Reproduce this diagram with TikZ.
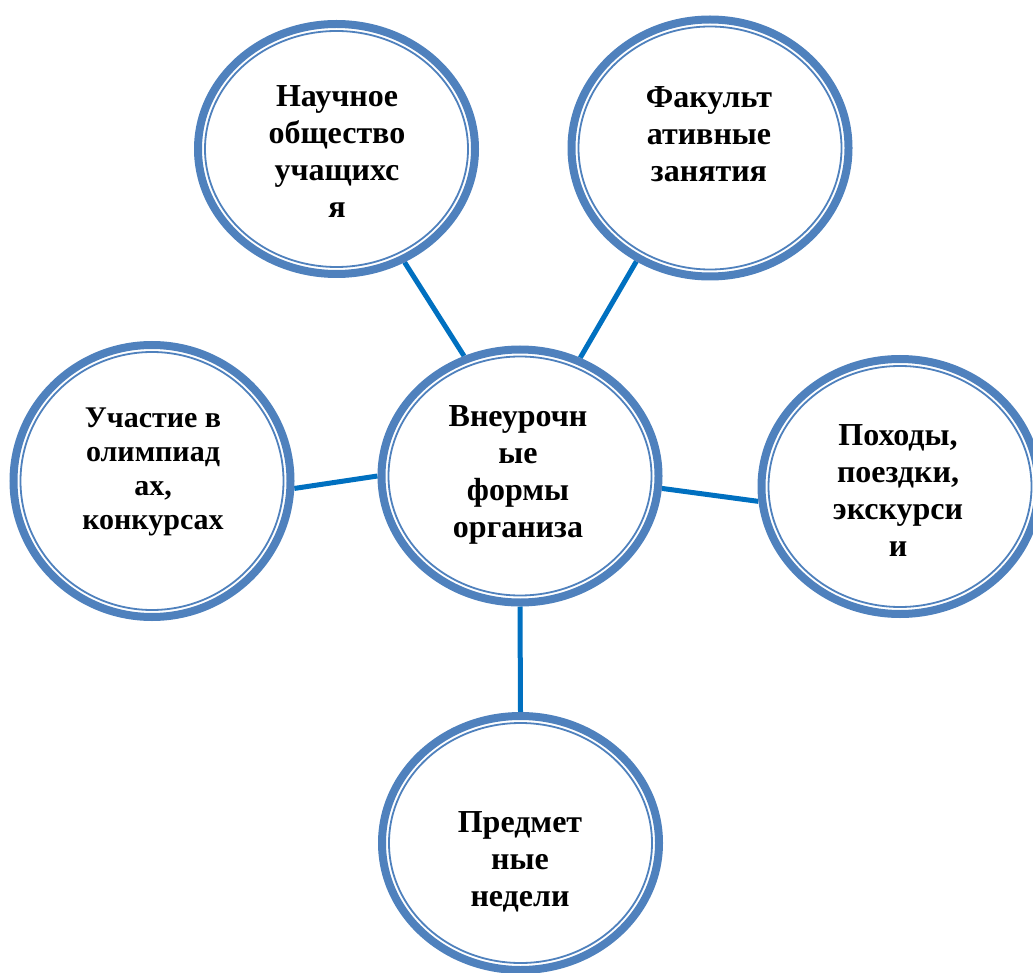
\documentclass[tikz,border=0pt]{standalone}
\usepackage{fontspec}
\setmainfont{Liberation Serif}
\usetikzlibrary{shapes.geometric,backgrounds}
\definecolor{ringblue}{HTML}{4F81BD}
\definecolor{linkblue}{HTML}{0070C0}
\tikzset{
  ring/.style={ellipse, draw=ringblue, line width=8pt, fill=white, inner sep=0pt},
  inring/.style={draw=ringblue, line width=1.8pt},
  label/.style={align=center, inner sep=0pt, font=\bfseries\fontsize{32}{37}\selectfont},
  smalllabel/.style={align=center, inner sep=0pt, font=\bfseries\fontsize{30}{34}\selectfont},
  conn/.style={draw=linkblue, line width=5pt}
}
\begin{document}
\begin{tikzpicture}[x=1pt,y=-1pt]
\useasboundingbox (0,0) rectangle (1033,973);
% circles
\node[ring, minimum width=277pt, minimum height=250pt] (tl) at (336.5,149) {};
\draw[inring] (tl.center) ellipse [x radius=131.5, y radius=118];
\node[ring, minimum width=277pt, minimum height=257pt] (tr) at (710,148) {};
\draw[inring] (tr.center) ellipse [x radius=131.5, y radius=121.5];
\node[ring, minimum width=277pt, minimum height=253pt] (c) at (520,476) {};
\draw[inring] (c.center) ellipse [x radius=131.5, y radius=119.5];
\node[ring, minimum width=277pt, minimum height=272pt] (l) at (152,481) {};
\draw[inring] (l.center) ellipse [x radius=131.5, y radius=129];
\node[ring, minimum width=277pt, minimum height=255pt] (r) at (900,486.5) {};
\draw[inring] (r.center) ellipse [x radius=131.5, y radius=120.5];
\node[ring, minimum width=277pt, minimum height=254pt] (b) at (520.5,843) {};
\draw[inring] (b.center) ellipse [x radius=131.5, y radius=120];
% texts
\node[label] (tlt) at (337,152) {Научное\\общество\\учащихс\\я};
\node[label] (trt) at (709,134) {Факульт\\ативные\\занятия};
\node[label] (ct) at (518,475) {Внеурочн\\ые\\формы\\организа};
\node[smalllabel] (lt) at (153,472) {Участие в\\олимпиад\\ах,\\конкурсах};
\node[label] (rt) at (898,491) {Походы,\\поездки,\\экскурси\\и};
\node[label] (bt) at (520,862) {Предмет\\ные\\недели};
% connectors
\begin{pgfonlayer}{background}
\draw[conn] (tl.-59.7) -- (c.115.3);
\draw[conn] (tr.-123) -- (c.63.3);
\draw[conn] (l.-3) -- (c.180);
\draw[conn] (c.-5.4) -- (r.186.6);
\draw[conn] (c.-90) -- (b.90);
\end{pgfonlayer}
\end{tikzpicture}
\end{document}
